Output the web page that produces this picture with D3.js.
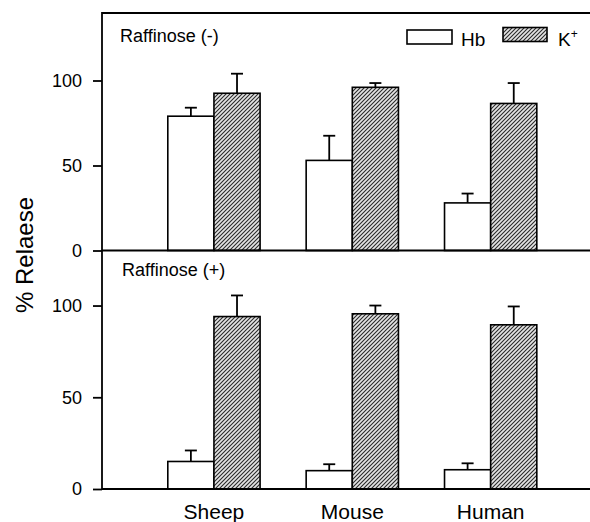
<!DOCTYPE html>
<html>
<head>
<meta charset="utf-8">
<script src="https://cdn.jsdelivr.net/npm/d3@7"></script>
<style>
  html, body { margin: 0; padding: 0; background: #fff; }
  svg { display: block; font-family: "Liberation Sans", Arial, sans-serif; }
</style>
</head>
<body>
<svg id="chart" width="590" height="522"></svg>
<script>
// ---- data ----
const categories = ["Sheep", "Mouse", "Human"];
const seriesNames = ["Hb", "K+"];
const panelTitles = ["Raffinose (-)", "Raffinose (+)"];
const yTicks = [0, 50, 100];

const hbMinus    = [79, 53, 28];
const hbMinusErr = [5, 14.5, 5.5];
const kMinus     = [92.5, 96, 86.5];
const kMinusErr  = [11.5, 2.5, 12];

const hbPlus     = [15, 10, 10.5];
const hbPlusErr  = [6, 3.5, 3.5];
const kPlus      = [94, 95.5, 89.5];
const kPlusErr   = [11.5, 4.5, 10];

// ---- setup ----
const svg = d3.select("#chart");
const left = 102, right = 590;

const defs = svg.append("defs");
const pat = defs.append("pattern")
  .attr("id", "hatch").attr("patternUnits", "userSpaceOnUse")
  .attr("width", 4).attr("height", 4);
pat.append("rect").attr("width", 4).attr("height", 4).attr("fill", "#e4e4e4");
pat.append("path")
  .attr("d", "M-1,1 l2,-2 M0,4 l4,-4 M3,5 l2,-2")
  .attr("stroke", "#2a2a2a").attr("stroke-width", 1.1);

const x0 = d3.scaleBand().domain(categories).range([left, right])
  .paddingInner(0.333).paddingOuter(0.43).align(0.553);
const x1 = d3.scaleBand().domain(seriesNames).range([0, x0.bandwidth()]).padding(0);

const panels = [
  { title: panelTitles[0], yDomain: [0, 140], yRange: [250.5, 12.5],
    hb: hbMinus, hbErr: hbMinusErr, k: kMinus, kErr: kMinusErr },
  { title: panelTitles[1], yDomain: [0, 130], yRange: [489, 250.5],
    hb: hbPlus, hbErr: hbPlusErr, k: kPlus, kErr: kPlusErr }
];

const fills = { "Hb": "#ffffff", "K+": "url(#hatch)" };

panels.forEach((p, pi) => {
  const y = d3.scaleLinear().domain(p.yDomain).range(p.yRange);
  const g = svg.append("g");

  const data = [];
  categories.forEach((c, i) => {
    data.push({ cat: c, s: "Hb", v: p.hb[i], e: p.hbErr[i] });
    data.push({ cat: c, s: "K+", v: p.k[i], e: p.kErr[i] });
  });

  // error bars (upper only)
  const eb = g.append("g").attr("stroke", "#000").attr("stroke-width", 1.8);
  data.forEach(d => {
    const cx = x0(d.cat) + x1(d.s) + x1.bandwidth() / 2;
    eb.append("line").attr("x1", cx).attr("x2", cx)
      .attr("y1", y(d.v)).attr("y2", y(d.v + d.e));
    eb.append("line").attr("x1", cx - 6).attr("x2", cx + 6)
      .attr("y1", y(d.v + d.e)).attr("y2", y(d.v + d.e));
  });

  // bars
  g.append("g").selectAll("rect").data(data).join("rect")
    .attr("x", d => x0(d.cat) + x1(d.s))
    .attr("y", d => y(d.v))
    .attr("width", x1.bandwidth())
    .attr("height", d => y(0) - y(d.v))
    .attr("fill", d => fills[d.s])
    .attr("stroke", "#000").attr("stroke-width", 1.6);

  // y axis
  const ax = g.append("g").attr("transform", `translate(${left},0)`)
    .call(d3.axisLeft(y).tickValues(yTicks).tickSize(9).tickSizeOuter(0).tickPadding(11));
  ax.select(".domain").remove();
  ax.selectAll(".tick line").attr("stroke", "#000").attr("stroke-width", 1.8);
  ax.selectAll(".tick text").attr("font-size", 18).attr("fill", "#000")
    .attr("font-family", "'Liberation Sans', Arial, sans-serif");

  // baseline
  g.append("line").attr("x1", left).attr("x2", right)
    .attr("y1", y(0)).attr("y2", y(0))
    .attr("stroke", "#000").attr("stroke-width", 1.8);

  // panel title
  g.append("text").attr("x", pi === 0 ? 120 : 122).attr("y", pi === 0 ? 42 : 276)
    .attr("font-size", 18).attr("fill", "#000").text(p.title);
});

// frame: top line and left axis line
svg.append("line").attr("x1", left).attr("x2", right).attr("y1", 13).attr("y2", 13)
  .attr("stroke", "#000").attr("stroke-width", 1.8);
svg.append("line").attr("x1", left).attr("x2", left).attr("y1", 12.1).attr("y2", 489.9)
  .attr("stroke", "#000").attr("stroke-width", 1.8);

// x labels
svg.append("g").selectAll("text").data(categories).join("text")
  .attr("x", d => x0(d) + x0.bandwidth() / 2)
  .attr("y", 519)
  .attr("text-anchor", "middle")
  .attr("font-size", 21).attr("fill", "#000")
  .text(d => d);

// y label
svg.append("text")
  .attr("transform", "translate(33,255) rotate(-90)")
  .attr("text-anchor", "middle")
  .attr("font-size", 24).attr("fill", "#000")
  .text("% Relaese");

// legend
const leg = svg.append("g");
leg.append("rect").attr("x", 407).attr("y", 30).attr("width", 45).attr("height", 14)
  .attr("fill", fills["Hb"]).attr("stroke", "#000").attr("stroke-width", 1.6);
leg.append("text").attr("x", 461).attr("y", 46).attr("font-size", 19).attr("fill", "#000")
  .text(seriesNames[0]);
leg.append("rect").attr("x", 503).attr("y", 27.5).attr("width", 44).attr("height", 14)
  .attr("fill", fills["K+"]).attr("stroke", "#000").attr("stroke-width", 1.6);
const kt = leg.append("text").attr("x", 558).attr("y", 46).attr("font-size", 19).attr("fill", "#000");
kt.append("tspan").text("K");
kt.append("tspan").attr("font-size", 12).attr("dy", -8).text("+");
</script>
</body>
</html>
